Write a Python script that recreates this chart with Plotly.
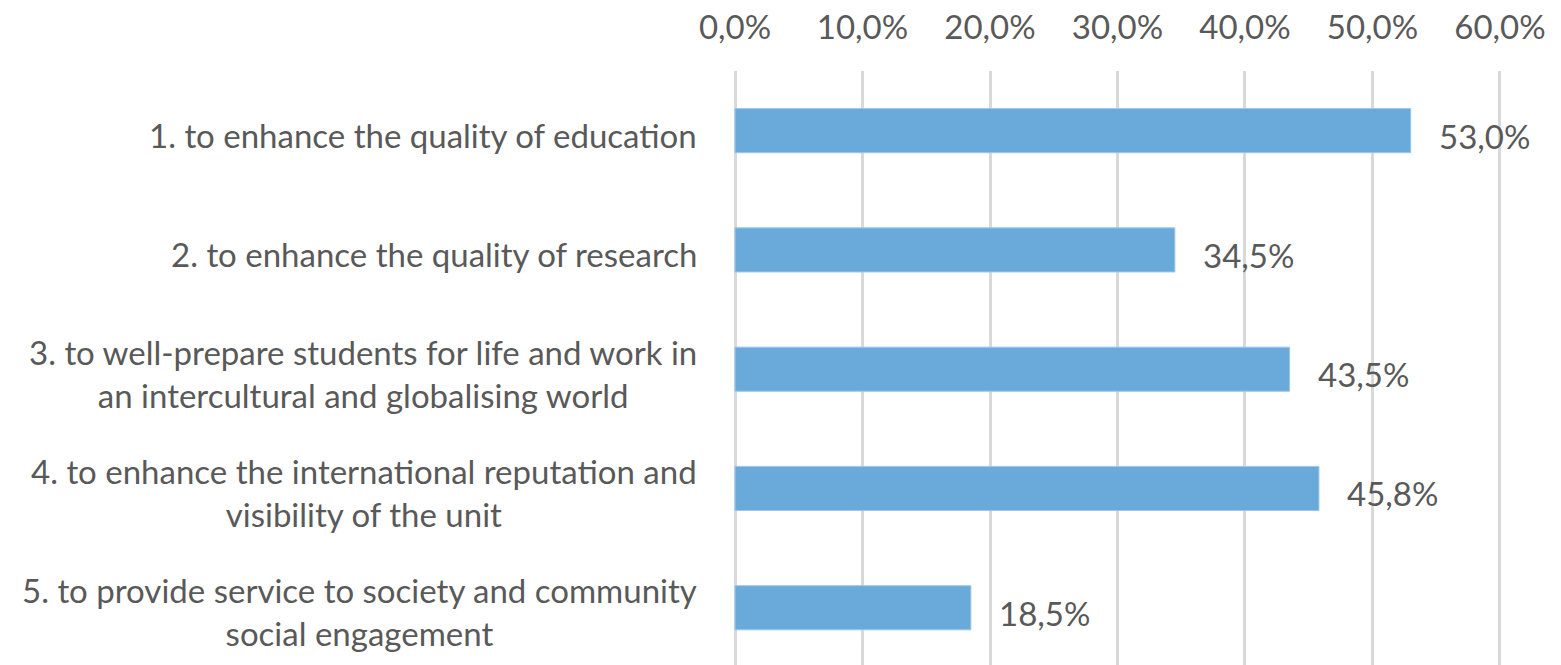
import plotly.graph_objects as go

categories = [
    "1. to enhance the quality of education",
    "2. to enhance the quality of research",
    "3. to well-prepare students for life and work in<br>an intercultural and globalising world",
    "4. to enhance the international reputation and<br>visibility of the unit",
    "5. to provide service to society and community<br>social engagement",
]
values = [0.530, 0.345, 0.435, 0.458, 0.185]
value_labels = ["53,0%", "34,5%", "43,5%", "45,8%", "18,5%"]
tick_vals = [0, 0.1, 0.2, 0.3, 0.4, 0.5, 0.6]

FONT = "Lato"
TXT = "#595959"
FS = 33

fig = go.Figure()
fig.add_trace(go.Bar(
    y=list(range(len(categories))),
    x=values,
    orientation="h",
    width=0.37,
    marker=dict(color="#6aaadb", line=dict(color="#9cc7ea", width=1)),
    hoverinfo="skip",
))

for i, (cat, v, lab) in enumerate(zip(categories, values, value_labels)):
    fig.add_annotation(x=0, y=i, xref="x", yref="y", text=cat, showarrow=False,
                       xanchor="right", yanchor="middle", align="center", xshift=-36,
                       yshift=-4, font=dict(family=FONT, size=FS, color=TXT))
    fig.add_annotation(x=v, y=i, xref="x", yref="y", text=lab, showarrow=False,
                       xanchor="left", yanchor="middle", xshift=26, yshift=-5,
                       font=dict(family=FONT, size=FS, color=TXT))

fig.update_layout(
    width=1561, height=665,
    margin=dict(l=734, r=60, t=71, b=0),
    paper_bgcolor="white", plot_bgcolor="white",
    separators=", ",
    showlegend=False,
    font=dict(family=FONT, size=FS, color=TXT),
    xaxis=dict(side="top", range=[-0.0008, 0.6008], tickvals=tick_vals, tickformat=".1%",
               showgrid=True, gridcolor="#d9d9d9", gridwidth=3, zeroline=False,
               showline=False, ticks="", ticklabelstandoff=24, automargin=False,
               tickfont=dict(family=FONT, size=FS, color=TXT)),
    yaxis=dict(range=[4.48, -0.5], showticklabels=False, showgrid=False,
               zeroline=False, showline=False, ticks="", automargin=False),
)

fig.write_html("out.html", config={"displayModeBar": False},
               post_script="document.body.style.margin='0';")
